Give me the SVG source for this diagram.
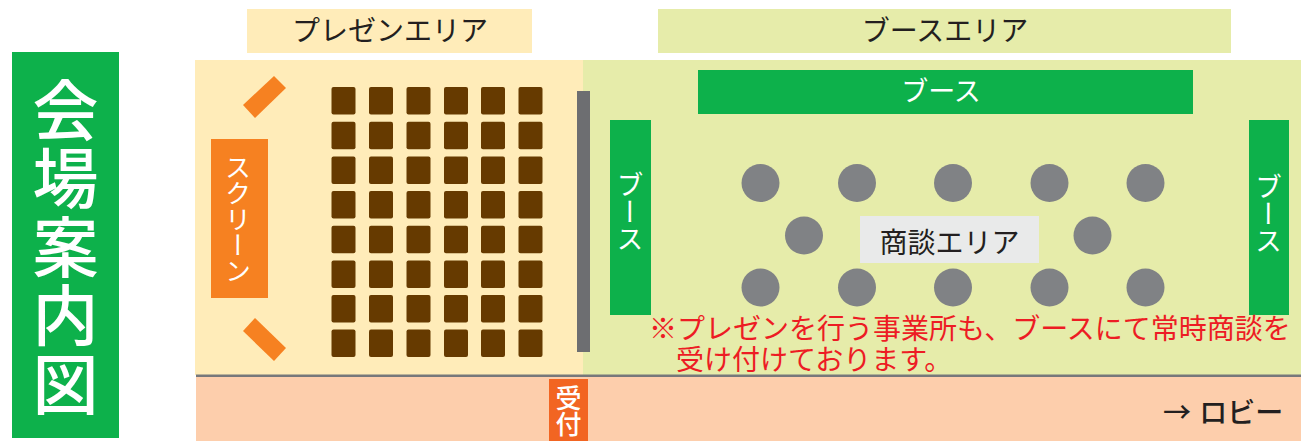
<svg xmlns="http://www.w3.org/2000/svg" width="1313" height="441" viewBox="0 0 1313 441">
<style>
text{font-family:"Noto Sans CJK JP","Noto Sans",sans-serif}
.h{font-size:28px;fill:#231f20;text-anchor:middle}
.w{fill:#fff;text-anchor:middle}
.v{writing-mode:vertical-rl;fill:#fff;text-anchor:middle}
.s{fill:#663a00}
.c{fill:#808285}
.g{fill:#0db14b}
.o{fill:#f68121}
.r{font-size:28px;fill:#ed1c24}
</style>
<defs>
<rect id="seat" class="s" width="24" height="27.5" rx="2"/>
<circle id="tbl" class="c" r="19"/>
</defs>
<rect width="1313" height="441" fill="#fff"/>
<g id="title"><rect class="g" x="12" y="52" width="107" height="386"/>
<text class="v" x="65.500" y="248" font-size="66" letter-spacing="2.500" font-weight="500">会場案内図</text></g>
<g id="presen-label"><rect x="247" y="9" width="285" height="44" fill="#ffecb9"/><text class="h" x="390" y="41">プレゼンエリア</text></g>
<g id="booth-label"><rect x="658" y="9" width="573" height="44" fill="#e6ecaa"/><text class="h" x="945" y="41">ブースエリア</text></g>
<g id="presen-area"><rect x="195" y="60" width="389" height="315" fill="#ffecb9"/></g>
<g id="booth-area"><rect x="583" y="60" width="718" height="315" fill="#e6ecaa"/></g>
<g id="lobby"><rect x="196" y="377" width="1105" height="64" fill="#fdceac"/>
<text x="1163" y="423" font-size="28" font-weight="500" fill="#231f20">→ <tspan dx="2">ロビー</tspan></text></g>
<rect id="floor-line" x="196" y="374.500" width="1105" height="2.500" fill="#77787b"/>
<g id="reception"><rect x="549" y="379" width="39" height="62" fill="#f26522"/><text class="v" x="568.500" y="411.500" font-size="26" font-weight="500">受付</text></g>
<g id="screen"><rect class="o" x="211" y="139" width="57" height="159"/><text class="v" x="238" y="219" font-size="26">スクリーン</text>
<polygon class="o" points="243,105 274,76 286,88 255,118"/>
<polygon class="o" points="243,331 255,318 286,348 274,361"/></g>
<g id="seats">
<use href="#seat" x="331.500" y="87"/><use href="#seat" x="369" y="87"/><use href="#seat" x="406.500" y="87"/><use href="#seat" x="444" y="87"/><use href="#seat" x="481" y="87"/><use href="#seat" x="518.500" y="87"/>
<use href="#seat" x="331.500" y="121.700"/><use href="#seat" x="369" y="121.700"/><use href="#seat" x="406.500" y="121.700"/><use href="#seat" x="444" y="121.700"/><use href="#seat" x="481" y="121.700"/><use href="#seat" x="518.500" y="121.700"/>
<use href="#seat" x="331.500" y="156.400"/><use href="#seat" x="369" y="156.400"/><use href="#seat" x="406.500" y="156.400"/><use href="#seat" x="444" y="156.400"/><use href="#seat" x="481" y="156.400"/><use href="#seat" x="518.500" y="156.400"/>
<use href="#seat" x="331.500" y="191"/><use href="#seat" x="369" y="191"/><use href="#seat" x="406.500" y="191"/><use href="#seat" x="444" y="191"/><use href="#seat" x="481" y="191"/><use href="#seat" x="518.500" y="191"/>
<use href="#seat" x="331.500" y="225.700"/><use href="#seat" x="369" y="225.700"/><use href="#seat" x="406.500" y="225.700"/><use href="#seat" x="444" y="225.700"/><use href="#seat" x="481" y="225.700"/><use href="#seat" x="518.500" y="225.700"/>
<use href="#seat" x="331.500" y="260.400"/><use href="#seat" x="369" y="260.400"/><use href="#seat" x="406.500" y="260.400"/><use href="#seat" x="444" y="260.400"/><use href="#seat" x="481" y="260.400"/><use href="#seat" x="518.500" y="260.400"/>
<use href="#seat" x="331.500" y="295"/><use href="#seat" x="369" y="295"/><use href="#seat" x="406.500" y="295"/><use href="#seat" x="444" y="295"/><use href="#seat" x="481" y="295"/><use href="#seat" x="518.500" y="295"/>
<use href="#seat" x="331.500" y="329.500"/><use href="#seat" x="369" y="329.500"/><use href="#seat" x="406.500" y="329.500"/><use href="#seat" x="444" y="329.500"/><use href="#seat" x="481" y="329.500"/><use href="#seat" x="518.500" y="329.500"/>
</g>
<rect id="partition" x="577" y="91" width="13" height="261" fill="#6d6e71"/>
<g id="booth-top"><rect class="g" x="698" y="70" width="495" height="44"/><text class="w" x="941" y="101" font-size="27">ブース</text></g>
<g id="booth-left"><rect class="g" x="610" y="120" width="41" height="195"/><text class="v" x="630" y="212" font-size="27">ブース</text></g>
<g id="booth-right"><rect class="g" x="1249" y="120" width="40" height="195"/><text class="v" x="1268.500" y="214" font-size="27">ブース</text></g>
<g id="tables">
<use href="#tbl" x="760.500" y="183"/><use href="#tbl" x="857" y="183"/><use href="#tbl" x="953" y="183"/><use href="#tbl" x="1049.500" y="183"/><use href="#tbl" x="1145.500" y="183"/>
<use href="#tbl" x="804" y="235.500"/><use href="#tbl" x="1092.500" y="235.500"/>
<use href="#tbl" x="760.500" y="287.500"/><use href="#tbl" x="857" y="287.500"/><use href="#tbl" x="953" y="287.500"/><use href="#tbl" x="1049.500" y="287.500"/><use href="#tbl" x="1145.500" y="287.500"/>
</g>
<g id="meeting"><rect x="860" y="216" width="179" height="47" fill="#e9eaea"/><text class="h" x="949.500" y="252.500">商談エリア</text></g>
<g id="note"><text class="r"><tspan x="649" y="338.500">※プレゼンを行う事業所も、ブースにて常時商談を</tspan><tspan x="676" y="370">受け付けております。</tspan></text></g>
</svg>
